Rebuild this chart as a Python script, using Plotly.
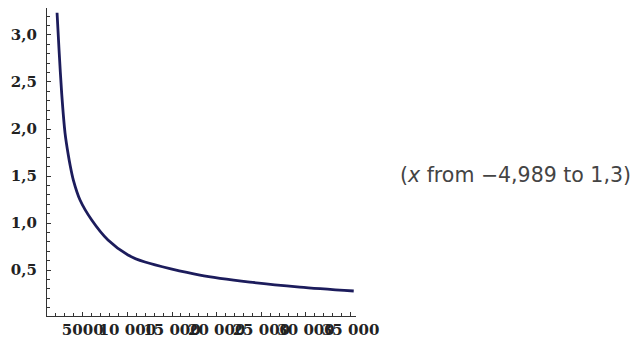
import plotly.graph_objects as go

# Data
x_values = [2125, 2349, 2651, 3020, 3389, 3579, 3949, 4698, 6007, 7830,
            10067, 11969, 18120, 23714, 29306, 35347]
y_values = [3.237, 2.84, 2.37, 1.957, 1.72, 1.62, 1.457, 1.245, 1.032, 0.819,
            0.66, 0.585, 0.447, 0.372, 0.319, 0.277]

x_tick_vals = [5000, 10000, 15000, 20000, 25000, 30000, 35000]
x_tick_text = ["5000", "10 000", "15 000", "20 000", "25 000", "30 000", "35 000"]
y_tick_vals = [0.5, 1.0, 1.5, 2.0, 2.5, 3.0]
y_tick_text = ["0,5", "1,0", "1,5", "2,0", "2,5", "3,0"]
note_text = "(<i>x</i> from \u22124,989 to 1,3)"

fig = go.Figure()
fig.add_trace(go.Scatter(
    x=x_values, y=y_values, mode="lines",
    line=dict(color="#1c1c5c", width=2.8, shape="spline", smoothing=0.8),
    hoverinfo="skip", showlegend=False,
))

tick_font = dict(family="DejaVu Serif", size=15, color="#222222", weight="bold")

fig.update_layout(
    width=632, height=336,
    margin=dict(l=39, r=284, t=0, b=28),
    paper_bgcolor="white", plot_bgcolor="white",
    showlegend=False,
    xaxis=dict(
        range=[1000, 35600], showgrid=False, zeroline=False,
        showline=True, linecolor="#333333", linewidth=1.2,
        ticks="inside", ticklen=4, tickcolor="#333333",
        tickvals=x_tick_vals, ticktext=x_tick_text, tickangle=0,
        tickfont=tick_font, automargin=False,
        minor=dict(ticks="inside", ticklen=2.5, dtick=1000, tick0=0, tickcolor="#333333"),
    ),
    yaxis=dict(
        range=[0.011, 3.287], showgrid=False, zeroline=False,
        showline=True, linecolor="#333333", linewidth=1.2,
        ticks="inside", ticklen=4, tickcolor="#333333",
        tickvals=y_tick_vals, ticktext=y_tick_text,
        tickfont=tick_font, automargin=False, ticklabelstandoff=6,
        minor=dict(ticks="inside", ticklen=2.5, dtick=0.1, tick0=0, tickcolor="#333333"),
    ),
    annotations=[dict(
        text=note_text, xref="paper", yref="paper", x=1.136, y=0.458,
        xanchor="left", yanchor="middle", showarrow=False,
        font=dict(family="DejaVu Sans", size=20.5, color="#444444"),
    )],
)

fig.write_html("out.html")
